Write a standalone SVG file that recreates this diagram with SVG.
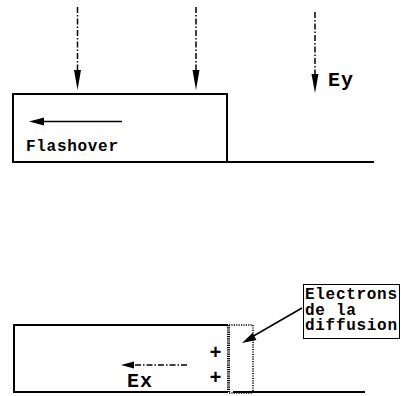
<svg xmlns="http://www.w3.org/2000/svg" width="401" height="396" viewBox="0 0 401 396">
<style>
.box{fill:none;stroke:#000;stroke-width:2}
.ln{fill:none;stroke:#000;stroke-width:2}
.dd{fill:none;stroke:#000;stroke-width:1.5;stroke-dasharray:6 2 1.5 2}
.dot{fill:none;stroke:#000;stroke-width:1.5;stroke-dasharray:1.2 1.2}
.sol{fill:none;stroke:#000;stroke-width:1.5}
.hd{fill:#000;stroke:none}
.t{font-family:"Liberation Mono","Courier New",monospace;font-weight:bold;fill:#000}
.s{font-size:16px;letter-spacing:0.7px}
.b{font-size:20px;letter-spacing:1px}
</style>
<rect width="401" height="396" fill="#fff"/>
<g id="top-block">
<polyline class="box" points="227,162 227,94 13,94 13,162 227,162 374,162"/>
</g>
<g id="flashover">
<text class="t s" x="26" y="151">Flashover</text>
</g>
<g id="ey-label">
<text class="t b" x="328" y="86">Ey</text>
</g>
<g id="bottom-block">
<polyline class="box" points="228,325 14,325 14,392 228,392"/>
<line class="ln" x1="233" y1="392" x2="365" y2="392"/>
<line x1="228.5" y1="325" x2="228.5" y2="392" stroke="#000" stroke-width="3" stroke-dasharray="1.2 1"/>
</g>
<g id="diffusion-zone">
<polyline class="dot" points="229,325 253,325 253,392"/>
<line class="dot" x1="229" y1="393" x2="253" y2="393"/>
</g>
<g id="charges">
<text class="t" x="215.5" y="359" font-size="20" text-anchor="middle">+</text>
<text class="t" x="215.5" y="384" font-size="20" text-anchor="middle">+</text>
</g>
<g id="ex-label">
<text class="t b" x="127" y="387">Ex</text>
</g>
<g id="electrons-label">
<rect x="303.5" y="284.5" width="96" height="54" fill="#fff" stroke="#000" stroke-width="1"/>
<text class="t s" x="305" y="299">Electrons</text>
<text class="t s" x="305" y="314.5">de la</text>
<text class="t s" x="305" y="330">diffusion</text>
</g>
<g id="connectors">
<line class="dd" x1="77.5" y1="7" x2="77.5" y2="72"/>
<polygon class="hd" points="74,70 81,70 77.5,90"/>
<line class="dd" x1="196" y1="7" x2="196" y2="72"/>
<polygon class="hd" points="192.5,70 199.5,70 196,90"/>
<line class="dd" x1="315" y1="12" x2="315" y2="76"/>
<polygon class="hd" points="311.5,74 318.5,74 315,93"/>
<line class="sol" x1="122" y1="121.5" x2="40" y2="121.5"/>
<polygon class="hd" points="29,121.5 44,117.5 44,125.5"/>
<line class="dd" x1="187" y1="365" x2="131" y2="365"/>
<polygon class="hd" points="121,365 134,361.5 134,368.5"/>
<line class="sol" x1="302" y1="308" x2="250" y2="338"/>
<polygon class="hd" points="242,343 252.5,333 256.5,340"/>
</g>
</svg>
